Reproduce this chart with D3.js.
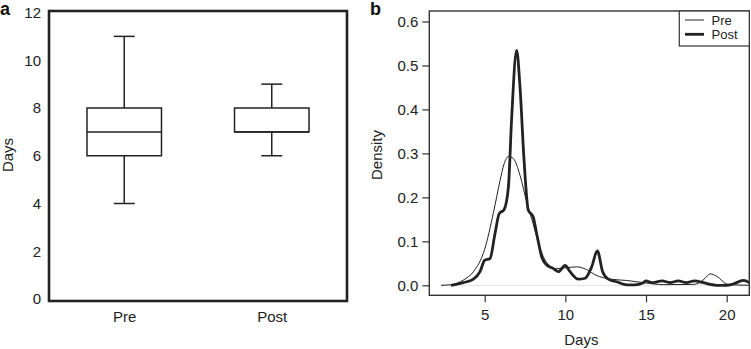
<!DOCTYPE html>
<html>
<head>
<meta charset="utf-8">
<script src="https://cdn.jsdelivr.net/npm/d3@7"></script>
<style>
  body { margin: 0; background: #fff; }
  svg { display: block; font-family: "Liberation Sans", Arial, Helvetica, sans-serif; }
</style>
</head>
<body>
<svg id="chart" width="751" height="349"></svg>
<script>
// ---- panel a: box plot summaries ----
const groups = ["Pre", "Post"];
const boxMin = [4, 6];
const boxQ1 = [6, 7];
const boxMedian = [7, 7];
const boxQ3 = [8, 8];
const boxMax = [11, 9];
const daysTicks = [0, 2, 4, 6, 8, 10, 12];

// ---- panel b: density curves ----
const preX = [2.29, 2.95, 3.68, 4.3, 5.0, 5.54, 5.95, 6.2, 6.47, 6.78, 7.19, 7.6, 8.0, 8.43, 8.84, 9.46,
  10.08, 10.7, 11.3, 11.9, 12.8, 13.8, 14.83, 16.1, 17.9, 18.4, 18.66, 18.97, 19.4, 20.0, 20.4, 21.5];
const preY = [0, 0.0015, 0.012, 0.031, 0.082, 0.165, 0.238, 0.276, 0.293, 0.288, 0.25, 0.19, 0.14, 0.084, 0.052, 0.038,
  0.04, 0.042, 0.036, 0.023, 0.014, 0.011, 0.006, 0.0015, 0.002, 0.008, 0.016, 0.026, 0.02, 0.003, 0.001, 0];
const postX = [2.91, 3.68, 4.3, 4.71, 5.0, 5.33, 5.64, 5.9, 6.2, 6.47, 6.67, 6.98, 7.19, 7.44, 7.7, 8.0, 8.22,
  8.53, 8.84, 9.26, 9.57, 9.98, 10.29, 10.8, 11.22, 11.63, 11.98, 12.31, 12.66, 13.18, 13.8, 14.3, 14.83,
  15.0, 15.35, 16.0, 16.5, 17.0, 17.5, 18.0, 18.55, 18.97, 19.38, 20.0, 20.4, 21.03, 21.45];
const postY = [0, 0.006, 0.014, 0.031, 0.057, 0.061, 0.118, 0.163, 0.172, 0.224, 0.38, 0.534, 0.45, 0.284, 0.171, 0.156, 0.118,
  0.065, 0.046, 0.038, 0.031, 0.045, 0.031, 0.014, 0.016, 0.042, 0.078, 0.031, 0.014, 0.008, 0.001, 0.001, 0.006,
  0.01, 0.006, 0.01, 0.006, 0.01, 0.006, 0.01, 0.006, 0.002, 0, 0, 0.003, 0.011, 0.005];
const densityTicks = [0, 0.1, 0.2, 0.3, 0.4, 0.5, 0.6];
const dayTicksB = [5, 10, 15, 20];
const legendLabels = ["Pre", "Post"];

const svg = d3.select("#chart");
const ink = "#222";
const fs = 15;

// ================= PANEL A =================
const A = { left: 49, right: 347, top: 11, bottom: 301 };
const xa = d3.scalePoint().domain(groups).range([A.left, A.right]).padding(0.51);
const ya = d3.scaleLinear().domain([0, 12]).range([299, 12.5]);
const boxW = xa.step() * 0.505;
const capW = 21;

const gA = svg.append("g");

const yAxisA = gA.append("g")
  .attr("transform", `translate(${A.left},0)`)
  .call(d3.axisLeft(ya).tickValues(daysTicks).tickSize(0).tickPadding(8).tickFormat(d3.format("d")));
yAxisA.select(".domain").remove();

const xAxisA = gA.append("g")
  .attr("transform", `translate(0,${A.bottom})`)
  .call(d3.axisBottom(xa).tickSize(0).tickPadding(10));
xAxisA.select(".domain").remove();

gA.selectAll(".tick text").attr("font-size", fs).attr("fill", ink).attr("font-family", null);

const boxes = groups.map((g, i) => ({
  g, min: boxMin[i], q1: boxQ1[i], med: boxMedian[i], q3: boxQ3[i], max: boxMax[i]
}));

const bg = gA.selectAll("g.box").data(boxes).enter().append("g")
  .attr("class", "box")
  .attr("stroke", ink).attr("stroke-width", 1.5).attr("fill", "none");

// whiskers
bg.append("line")
  .attr("x1", d => xa(d.g)).attr("x2", d => xa(d.g))
  .attr("y1", d => ya(d.q3)).attr("y2", d => ya(d.max));
bg.append("line")
  .attr("x1", d => xa(d.g)).attr("x2", d => xa(d.g))
  .attr("y1", d => ya(d.q1)).attr("y2", d => ya(d.min));
bg.append("line")
  .attr("x1", d => xa(d.g) - capW / 2).attr("x2", d => xa(d.g) + capW / 2)
  .attr("y1", d => ya(d.max)).attr("y2", d => ya(d.max));
bg.append("line")
  .attr("x1", d => xa(d.g) - capW / 2).attr("x2", d => xa(d.g) + capW / 2)
  .attr("y1", d => ya(d.min)).attr("y2", d => ya(d.min));
// box + median
bg.append("rect")
  .attr("x", d => xa(d.g) - boxW / 2).attr("width", boxW)
  .attr("y", d => ya(d.q3)).attr("height", d => ya(d.q1) - ya(d.q3))
  .attr("fill", "#fff");
bg.append("line")
  .attr("x1", d => xa(d.g) - boxW / 2).attr("x2", d => xa(d.g) + boxW / 2)
  .attr("y1", d => ya(d.med)).attr("y2", d => ya(d.med));

// frame
gA.append("rect")
  .attr("x", A.left).attr("y", A.top)
  .attr("width", A.right - A.left).attr("height", A.bottom - A.top)
  .attr("fill", "none").attr("stroke", ink).attr("stroke-width", 2.6);

gA.append("text")
  .attr("transform", `translate(13,155) rotate(-90)`)
  .attr("text-anchor", "middle").attr("font-size", fs).attr("fill", ink)
  .text("Days");

gA.append("text")
  .attr("x", 0).attr("y", 15)
  .attr("font-size", 18).attr("font-weight", "bold").attr("fill", "#111")
  .text("a");

// ================= PANEL B =================
const B = { left: 429.3, right: 749.3, top: 11, bottom: 295.3 };
const xb = d3.scaleLinear().domain([5, 20]).range([484.7, 726.7]);
const yb = d3.scaleLinear().domain([0, 0.6]).range([285.3, 21.5]);

const gB = svg.append("g");

gB.append("clipPath").attr("id", "clipB")
  .append("rect")
  .attr("x", B.left).attr("y", B.top)
  .attr("width", B.right - B.left).attr("height", B.bottom - B.top);

const yAxisB = gB.append("g")
  .attr("transform", `translate(${B.left},0)`)
  .call(d3.axisLeft(yb).tickValues(densityTicks).tickSize(7).tickPadding(4).tickFormat(d3.format(".1f")));
yAxisB.select(".domain").remove();

const xAxisB = gB.append("g")
  .attr("transform", `translate(0,${B.bottom})`)
  .call(d3.axisBottom(xb).tickValues(dayTicksB).tickSize(7).tickPadding(7).tickFormat(d3.format("d")));
xAxisB.select(".domain").remove();

gB.selectAll(".tick text").attr("font-size", fs).attr("fill", ink).attr("font-family", null);
gB.selectAll(".tick line").attr("stroke", "#333").attr("stroke-width", 1.2);

const plotB = gB.append("g").attr("clip-path", "url(#clipB)");

// zero reference line
plotB.append("line")
  .attr("x1", xb(preX[0])).attr("x2", B.right)
  .attr("y1", yb(0)).attr("y2", yb(0))
  .attr("stroke", "#e2e2e2").attr("stroke-width", 1);

const line = d3.line()
  .x(d => xb(d[0]))
  .y(d => yb(d[1]))
  .curve(d3.curveMonotoneX);

const preData = preX.map((x, i) => [x, preY[i]]);
const postData = postX.map((x, i) => [x, postY[i]]);

plotB.append("path").datum(preData)
  .attr("d", line).attr("fill", "none").attr("stroke", ink).attr("stroke-width", 1);
plotB.append("path").datum(postData)
  .attr("d", line).attr("fill", "none").attr("stroke", ink).attr("stroke-width", 2.8)
  .attr("stroke-linejoin", "round");

// frame
gB.append("rect")
  .attr("x", B.left).attr("y", B.top)
  .attr("width", B.right - B.left).attr("height", B.bottom - B.top)
  .attr("fill", "none").attr("stroke", "#333").attr("stroke-width", 1.4);

// legend
const leg = gB.append("g");
leg.append("rect")
  .attr("x", 679.3).attr("y", B.top)
  .attr("width", B.right - 679.3).attr("height", 35)
  .attr("fill", "#fff").attr("stroke", "#333").attr("stroke-width", 1.2);
const legRows = leg.selectAll("g.row").data(legendLabels).enter().append("g")
  .attr("class", "row")
  .attr("transform", (d, i) => `translate(0,${20 + i * 14.3})`);
legRows.append("line")
  .attr("x1", 685).attr("x2", 704).attr("y1", 0).attr("y2", 0)
  .attr("stroke", ink).attr("stroke-width", (d, i) => i === 0 ? 1 : 2.8);
legRows.append("text")
  .attr("x", 711.5).attr("y", 4.5)
  .attr("font-size", 13).attr("fill", ink)
  .text(d => d);

gB.append("text")
  .attr("x", (B.left + B.right) / 2 - 8).attr("y", 345)
  .attr("text-anchor", "middle").attr("font-size", fs).attr("fill", ink)
  .text("Days");

gB.append("text")
  .attr("transform", `translate(382,155) rotate(-90)`)
  .attr("text-anchor", "middle").attr("font-size", fs).attr("fill", ink)
  .text("Density");

gB.append("text")
  .attr("x", 370).attr("y", 15)
  .attr("font-size", 18).attr("font-weight", "bold").attr("fill", "#111")
  .text("b");
</script>
</body>
</html>
